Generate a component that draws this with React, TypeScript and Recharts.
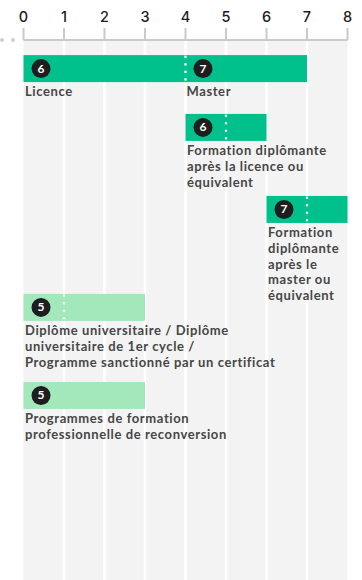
import React from 'react';
import { BarChart, Bar, XAxis, YAxis, CartesianGrid, Cell } from 'recharts';

// ---- Data ----
const categories = [
  'Licence',
  'Formation diplômante après la licence ou équivalent',
  'Formation diplômante après le master ou équivalent',
  'Diplôme universitaire / Diplôme universitaire de 1er cycle / Programme sanctionné par un certificat',
  'Programmes de formation professionnelle de reconversion',
];
const labelLines = [
  ['Licence'],
  ['Formation diplômante', 'après la licence ou', 'équivalent'],
  ['Formation', 'diplômante', 'après le', 'master ou', 'équivalent'],
  ['Diplôme universitaire / Diplôme', 'universitaire de 1er cycle /', 'Programme sanctionné par un certificat'],
  ['Programmes de formation', 'professionnelle de reconversion'],
];
const startValues = [0, 4, 6, 0, 0];
const endValues = [7, 6, 8, 3, 3];
const splitValues: (number | null)[] = [4, 5, 7, 1, null];
const startLevels = [6, 6, 7, 5, 5];
const splitLevels: (number | null)[] = [7, null, null, null, null];
const splitLabels: (string | null)[] = ['Master', null, null, null, null];
const programTypes = ['diplomant', 'diplomant', 'diplomant', 'court', 'court'];
// vertical slot of each row, in label-line units
const rowPositions = [1.9, 5.82, 11.29, 17.82, 23.69];
const xTicks = [0, 1, 2, 3, 4, 5, 6, 7, 8];

const data = categories.map((name, i) => ({
  name,
  lines: labelLines[i],
  start: startValues[i],
  end: endValues[i],
  split: splitValues[i],
  level: startLevels[i],
  splitLevel: splitLevels[i],
  splitLabel: splitLabels[i],
  type: programTypes[i],
  row: rowPositions[i],
}));

// ---- Styles ----
const W = 362;
const H = 580;
const AXIS_H = 40;
const BAR_H = 27;
const COLORS: Record<string, string> = { diplomant: '#00c08b', court: '#a2e8bb' };
const LABEL_FONT = 'Lato, "Open Sans", sans-serif';
const LABEL_SIZE = 13;
const LABEL_SPACING = 0.6;
const LINE_H = 15.8;

const Badge = ({ cx, cy, value }: { cx: number; cy: number; value: number }) => (
  <g>
    <circle cx={cx} cy={cy} r={9.5} fill="#1e1e1e" />
    <text
      x={cx}
      y={cy + 4}
      textAnchor="middle"
      fill="#fff"
      fontSize={12}
      fontWeight={700}
      fontFamily={LABEL_FONT}
    >
      {value}
    </text>
  </g>
);

const BarShape = (props: any) => {
  const { x, y, width, height, payload, fill } = props;
  const cy = y + height / 2;
  const top = cy - BAR_H / 2;
  const bottom = cy + BAR_H / 2;
  const unit = width / (payload.end - payload.start);
  const sx = payload.split != null ? x + (payload.split - payload.start) * unit : null;
  return (
    <g>
      <rect x={x} y={top} width={width} height={BAR_H} fill={fill} />
      {sx != null && (
        <line
          x1={sx}
          x2={sx}
          y1={top + 1.8}
          y2={bottom}
          stroke="#fff"
          strokeWidth={2.6}
          strokeLinecap="round"
          strokeDasharray="0 7.5"
        />
      )}
      <Badge cx={x + 17.5} cy={cy} value={payload.level} />
      {sx != null && payload.splitLevel != null && (
        <Badge cx={sx + 17.5} cy={cy} value={payload.splitLevel} />
      )}
      {payload.lines.map((ln: string, i: number) => (
        <text
          key={i}
          x={x + 1.5}
          y={bottom + 14 + i * LINE_H}
          fontFamily={LABEL_FONT}
          fontSize={LABEL_SIZE}
          fontWeight={700}
          letterSpacing={LABEL_SPACING}
          fill="#464646"
        >
          {ln}
        </text>
      ))}
      {sx != null && payload.splitLabel && (
        <text
          x={sx + 1}
          y={bottom + 14}
          fontFamily={LABEL_FONT}
          fontSize={LABEL_SIZE}
          fontWeight={700}
          letterSpacing={LABEL_SPACING}
          fill="#464646"
        >
          {payload.splitLabel}
        </text>
      )}
    </g>
  );
};

const AxisTick = (props: any) => {
  const { x, y, payload, index } = props;
  const axisY = y + 14;
  return (
    <g>
      {index === 0 && (
        <g>
          <circle cx={x - 21.5} cy={axisY} r={2} fill="#cfcfcf" />
          <circle cx={x - 10.5} cy={axisY} r={2} fill="#cfcfcf" />
        </g>
      )}
      <text
        x={x}
        y={y - 4.3}
        textAnchor="middle"
        fill="#1c1c1c"
        fontSize={14.5}
        fontWeight={500}
        fontFamily='Inter, "Open Sans", sans-serif'
      >
        {payload.value}
      </text>
    </g>
  );
};

export default function App() {
  return (
    <div style={{ position: 'absolute', left: 0, top: 0, width: W, height: H, background: '#fff' }}>
      <BarChart
        width={W}
        height={H}
        data={data}
        layout="vertical"
        margin={{ top: 0, right: 14.5, bottom: 0, left: 23.5 }}
      >
        <CartesianGrid
          horizontal={false}
          vertical={true}
          verticalValues={xTicks.slice(1, -1)}
          stroke="#ffffff"
          strokeWidth={2.6}
          fill="#f3f3f3"
          fillOpacity={1}
        />
        <XAxis
          type="number"
          orientation="top"
          domain={[0, 8]}
          ticks={xTicks}
          interval={0}
          height={AXIS_H}
          tickSize={12}
          tickMargin={2}
          axisLine={{ stroke: '#cacaca', strokeWidth: 2 }}
          tickLine={{ stroke: '#cacaca', strokeWidth: 2 }}
          tick={<AxisTick />}
        />
        <YAxis type="number" dataKey="row" domain={[0, 36]} ticks={rowPositions} hide />
        <Bar
          dataKey={(d: any) => [d.start, d.end]}
          barSize={BAR_H}
          shape={<BarShape />}
          isAnimationActive={false}
        >
          {data.map((d, i) => (
            <Cell key={i} fill={COLORS[d.type]} />
          ))}
        </Bar>
      </BarChart>
    </div>
  );
}
